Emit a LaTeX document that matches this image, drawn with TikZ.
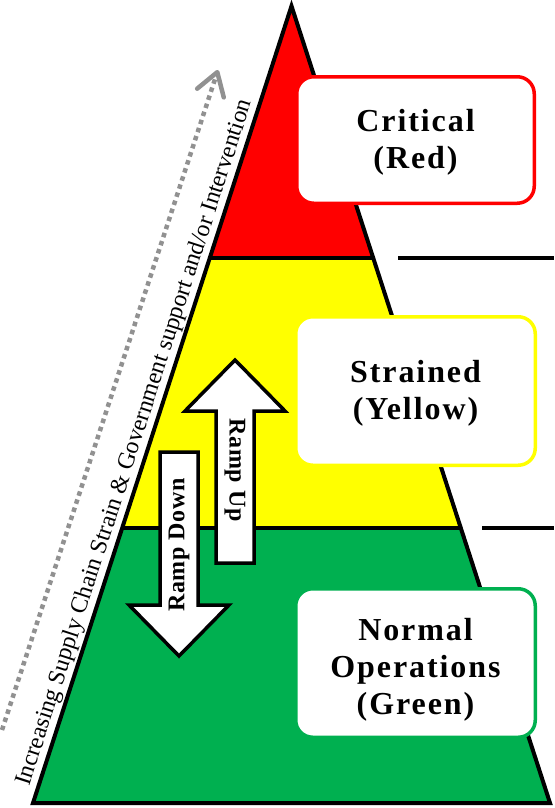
\documentclass[tikz,border=0pt]{standalone}
\usepackage{fontspec}
\setmainfont{Liberation Serif}
\newfontfamily\boxfont[LetterSpace=6]{Liberation Serif}
\newfontfamily\rampfont[LetterSpace=3]{Liberation Serif}
\usetikzlibrary{arrows.meta,calc}
\definecolor{cred}{RGB}{255,0,0}
\definecolor{cyellow}{RGB}{255,255,0}
\definecolor{cgreen}{RGB}{0,176,80}
\definecolor{cgray}{RGB}{145,145,145}
\begin{document}
\begin{tikzpicture}[x=1pt,y=-1pt,
  edge/.style={line width=4pt},
  levelbox/.style={draw, fill=white, line width=3.5pt, rounded corners=17pt, inner sep=0pt},
  leveltext/.style={font=\boxfont\bfseries\fontsize{32}{37}\selectfont, align=center, inner sep=0pt},
  ramparrow/.style={draw, fill=white, line width=3.5pt, line join=miter},
  ramptext/.style={font=\rampfont\bfseries\fontsize{24}{28}\selectfont, inner sep=0pt}
]
\useasboundingbox (0,0) rectangle (554,808);
% pyramid
\coordinate (A) at (291.5,6);
\coordinate (BL) at (33,803);
\coordinate (BR) at (550,803);
\coordinate (L1) at ($(A)!0.3162!(BL)$);
\coordinate (R1) at ($(A)!0.3162!(BR)$);
\coordinate (L2) at ($(A)!0.655!(BL)$);
\coordinate (R2) at ($(A)!0.655!(BR)$);
\fill[cred] (A)--(L1)--(R1)--cycle;
\fill[cyellow] (L1)--(L2)--(R2)--(R1)--cycle;
\fill[cgreen] (L2)--(BL)--(BR)--(R2)--cycle;
\draw[edge, line join=miter] (A)--(BL)--(BR)--cycle;
\draw[edge] (L1)--(R1);
\draw[edge] (L2)--(R2);
% dotted arrow and side label
\coordinate (D0) at (2,730);
\coordinate (D1) at (218,70);
\draw[cgray, line width=4.5pt, dash pattern=on 4.5pt off 4pt,
  -{Straight Barb[length=22pt,width=28pt,round]}] (D0)--(D1);
\node[rotate=72.03, anchor=south, inner sep=0pt, font=\fontsize{24}{28}\selectfont]
  (side) at ($(BL)!0.4467!(A)+(-2.9,-0.9)$)
  {Increasing Supply Chain Strain \& Government support and/or Intervention};
% ramp arrows
\draw[ramparrow] (235,360)--(285,411)--(254,411)--(254,563)--(216,563)--(216,411)--(185,411)--cycle;
\draw[ramparrow] (179,656)--(229,605)--(198,605)--(198,452)--(160,452)--(160,605)--(129,605)--cycle;
\node[ramptext, rotate=-90] (up) at (235,470) {Ramp Up};
\node[ramptext, rotate=90] (down) at (179,545) {Ramp Down};
% level boxes
\node[levelbox, draw=cred, minimum width=237.5pt, minimum height=126.5pt] (redbox) at (415.5,140) {};
\node[levelbox, draw=cyellow, minimum width=239.5pt, minimum height=148.5pt] (yelbox) at (415.5,391) {};
\node[levelbox, draw=cgreen, minimum width=239.5pt, minimum height=148.5pt] (grnbox) at (415.5,663) {};
\node[leveltext] (redtxt) at (415.5,142) {Critical\\(Red)};
\node[leveltext] (yeltxt) at (415.5,393) {Strained\\(Yellow)};
\node[leveltext] (grntxt) at (415.5,670) {Normal\\Operations\\(Green)};
% right ticks
\coordinate (T1a) at (398,258);
\coordinate (T1b) at (554,258);
\coordinate (T2a) at (482,528);
\coordinate (T2b) at (554,528);
\draw[edge] (T1a)--(T1b);
\draw[edge] (T2a)--(T2b);
\end{tikzpicture}
\end{document}
